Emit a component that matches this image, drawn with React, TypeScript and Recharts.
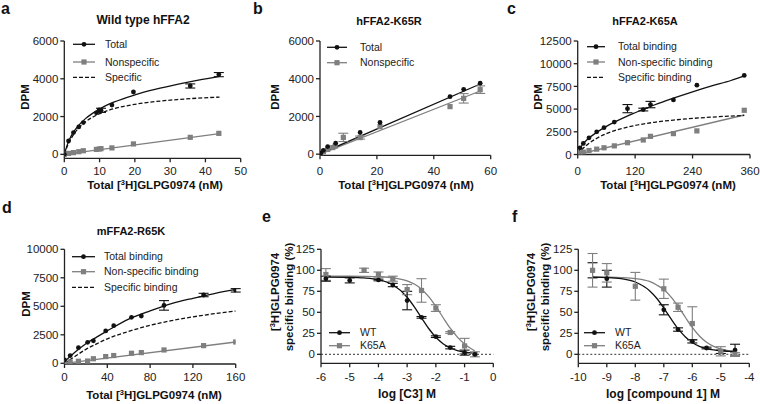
import React from 'react';
import { ComposedChart, Line, Scatter, XAxis, YAxis, ErrorBar, ReferenceLine } from 'recharts';

const BLACK = '#111111';
const GRAY = '#7f7f7f';
const FONT = '"Liberation Sans", Arial, sans-serif';

// ---------- Panel a : Wild type hFFA2 ----------
const aX = [0, 1.2, 2.6, 4.1, 5.4, 9.1, 9.9, 10.4, 13.5, 19.6, 35.7, 43.8];
const aTotal = [0, 705, 1150, 1450, 1680, 2200, 2350, 2330, 2610, 3300, 3620, 4220];
const aTotalErr = [0, 0, 0, 0, 0, 0, 0, 110, 0, 0, 110, 110];
const aNonspecific = [0, 50, 90, 140, 190, 260, 280, 300, 340, 550, 900, 1110];
const aFitX = [0, 1, 2, 4, 6, 8, 10, 14, 20, 26, 32, 38, 44];
const aTotalFit = [0, 580, 990, 1520, 1890, 2170, 2400, 2760, 3148, 3448, 3700, 3926, 4130];
const aSpecificFit = [0, 492, 861, 1377, 1722, 1967, 2152, 2410, 2648, 2798, 2900, 2976, 3030];
const aNonFitX = [0, 44];
const aNonFit = [0, 1100];

// ---------- Panel b : hFFA2-K65R ----------
const bTotalX = [0.3, 1.2, 2.7, 5.5, 14.1, 21.1, 45.7, 50.5, 56.3];
const bTotal = [60, 200, 400, 580, 1150, 1680, 3050, 3440, 3760];
const bNonX = [0.3, 1.2, 2.7, 4.5, 5.3, 8.2, 14.1, 21.1, 45.7, 50.5, 56.3];
const bNonspecific = [40, 130, 250, 350, 420, 890, 880, 1460, 2520, 2960, 3420];
const bNonErr = [0, 0, 0, 0, 0, 220, 80, 0, 0, 250, 200];
const bFitX = [0, 56.3];
const bTotalFit = [20, 3720];
const bNonFit = [0, 3350];

// ---------- Panel c : hFFA2-K65A ----------
const cX = [4.8, 11.7, 23.6, 39.7, 55, 76.5, 104, 137, 152, 200, 249, 348];
const cTotal = [730, 1215, 1840, 2500, 2950, 3570, 5050, 4950, 5500, 6010, 7640, 8710];
const cTotalErr = [0, 0, 0, 0, 0, 0, 450, 150, 350, 0, 0, 0];
const cNonspecific = [150, 260, 440, 590, 740, 950, 1300, 1600, 2000, 2300, 2600, 4870];
const cFitX = [0, 5, 10, 20, 40, 60, 80, 100, 120, 160, 200, 240, 280, 320, 348];
const cTotalFit = [0, 600, 1100, 1650, 2450, 3100, 3650, 4150, 4600, 5450, 6200, 6900, 7550, 8150, 8650];
const cSpecificFit = [0, 320, 604, 1083, 1795, 2300, 2676, 2967, 3199, 3545, 3791, 3975, 4118, 4233, 4300];
const cNonFitX = [0, 348];
const cNonFit = [0, 4350];

// ---------- Panel d : mFFA2-R65K ----------
const dX = [0, 5.3, 13, 21.6, 27, 38.5, 46, 62.6, 71.8, 93, 130, 160];
const dTotal = [290, 680, 1370, 1840, 1970, 2840, 3300, 4030, 4150, 5080, 5990, 6400];
const dTotalErr = [0, 0, 0, 0, 0, 0, 0, 0, 0, 420, 150, 150];
const dNonspecific = [60, 120, 180, 200, 400, 590, 680, 880, 940, 1170, 1550, 1870];
const dFitX = [0, 10, 20, 30, 40, 60, 80, 100, 120, 140, 160];
const dTotalFit = [150, 1000, 1720, 2300, 2850, 3880, 4600, 5230, 5700, 6120, 6480];
const dSpecificFit = [0, 620, 1227, 1702, 2150, 2800, 3330, 3740, 4070, 4350, 4590];
const dNonFitX = [0, 160];
const dNonFit = [0, 1870];

// ---------- Panel e : log [C3] ----------
const eWTX = [-5.83, -5, -4, -3.5, -3, -2.5, -2, -1.5, -1, -0.64];
const eWT = [90, 88, 88.5, 82.5, 64, 44, 21, 8, 2, 0];
const eWTErr = [3, 3, 1, 2, 11, 1, 1, 1.5, 3, 0];
const eKX = [-5.83, -4.5, -4, -3.5, -3, -2.5, -2, -1.5, -1, -0.64];
const eK = [95, 100, 95, 90, 77, 76, 55, 26, 10, 0];
const eKErr = [7, 2.5, 3, 3, 6, 14, 4, 1, 9, 3];
const eFitX = [-5.83, -5, -4.5, -4, -3.5, -3, -2.75, -2.5, -2.25, -2, -1.75, -1.5, -1.25, -1, -0.64];
const eWTFit = [91.95, 91.67, 90.98, 88.85, 82.72, 67.91, 56.41, 43.36, 30.72, 20.23, 12.59, 7.53, 4.39, 2.52, 1.12];
const eKFit = [93, 92.94, 92.81, 92.42, 91.18, 87.48, 83.62, 77.53, 68.64, 57.02, 43.83, 31.05, 20.45, 12.2, 4];

// ---------- Panel f : log [compound 1] ----------
const fWTX = [-9.5, -9, -7, -6.5, -6, -5.5, -5, -4.5];
const fWT = [100, 90, 53, 29.5, 15.5, 7.5, 3, 5];
const fWTErr = [9, 10, 6, 2, 2, 1, 2, 7];
const fKX = [-9.5, -9, -8, -7, -6.5, -6, -5, -4.5];
const fK = [100, 97, 81, 78, 56, 36.6, 3.6, 0];
const fKErr = [20, 11, 16.5, 11.5, 5, 20, 5.5, 2];
const fFitX = [-9.5, -9, -8.5, -8, -7.5, -7.25, -7, -6.75, -6.5, -6.25, -6, -5.75, -5.5, -5.25, -5, -4.5];
const fWTFit = [91.8, 91.4, 90.05, 86.1, 75.7, 66.7, 55.1, 42.4, 30.5, 20.9, 14.0, 9.55, 6.8, 5.2, 4.24, 3.4];
const fKFit = [92.0, 91.8, 91.4, 90.2, 86.7, 82.5, 77.0, 68.4, 57.2, 44.4, 32.0, 21.8, 14.3, 9.4, 6.3, 3.4];

type Pt = { x: number; y: number; e: number };
const pts = (xs: number[], ys: number[], es?: number[]): Pt[] =>
  xs.map((x, i) => ({ x, y: ys[i], e: es ? es[i] : 0 }));

const Circle = (p: any) =>
  p.cx == null ? null : <circle cx={p.cx} cy={p.cy} r={2.4} fill={BLACK} />;
const Square = (p: any) =>
  p.cx == null ? null : <rect x={p.cx - 2.6} y={p.cy - 2.6} width={5.2} height={5.2} fill={GRAY} />;

const XTick = (p: any) => (
  <text x={p.x} y={p.y} dy="0.72em" textAnchor="middle" fontSize={11.5} fontFamily={FONT} fill="#222">
    {p.payload.value}
  </text>
);
const YTick = (p: any) => (
  <text x={p.x} y={p.y} dy="0.36em" textAnchor="end" fontSize={11.5} fontFamily={FONT} fill="#222">
    {p.payload.value}
  </text>
);

type Series = { data: Pt[]; color: string; kind: 'circle' | 'square' };
type Fit = { data: Pt[]; color: string; dash?: string };

type PanelProps = {
  box: { x: number; y: number; w: number; h: number };
  plot: { left: number; top: number; right: number; bottom: number };
  xDomain: [number, number];
  xTicks: number[];
  yDomain: [number, number];
  yTicks: number[];
  series: Series[];
  fits: Fit[];
  zeroLine?: boolean;
  xTickMargin: number;
};

function Panel({ box, plot, xDomain, xTicks, yDomain, yTicks, series, fits, zeroLine, xTickMargin }: PanelProps) {
  const margin = { top: plot.top - box.y, right: box.x + box.w - plot.right, left: 0, bottom: 0 };
  return (
    <div style={{ position: 'absolute', left: box.x, top: box.y }}>
      <ComposedChart width={box.w} height={box.h} margin={margin}>
        <XAxis
          type="number"
          dataKey="x"
          domain={xDomain}
          ticks={xTicks}
          allowDataOverflow
          height={box.y + box.h - plot.bottom}
          tick={XTick}
          tickSize={4}
          tickMargin={xTickMargin}
          stroke="#222"
          strokeWidth={1.3}
          interval={0}
        />
        <YAxis
          type="number"
          dataKey="y"
          domain={yDomain}
          ticks={yTicks}
          allowDataOverflow
          width={plot.left - box.x}
          tick={YTick}
          tickSize={4}
          tickMargin={2}
          stroke="#222"
          strokeWidth={1.3}
          interval={0}
        />
        {zeroLine && <ReferenceLine y={0} stroke="#333" strokeDasharray="2 2" strokeWidth={1} />}
        {fits.map((f, i) => (
          <Line
            key={'f' + i}
            data={f.data}
            dataKey="y"
            type="monotone"
            stroke={f.color}
            strokeWidth={1.3}
            strokeDasharray={f.dash}
            dot={false}
            activeDot={false}
            isAnimationActive={false}
          />
        ))}
        {series.map((s, i) => (
          <Scatter
            key={'s' + i}
            data={s.data}
            dataKey="y"
            shape={s.kind === 'circle' ? Circle : Square}
            isAnimationActive={false}
          >
            <ErrorBar dataKey="e" direction="y" width={5} stroke={s.color} strokeWidth={1.1} />
          </Scatter>
        ))}
      </ComposedChart>
    </div>
  );
}

type LegendRow = { label: string; color: string; marker?: 'circle' | 'square'; dash?: string };
function LegendBox({ x1, x2, tx, ys, rows }: { x1: number; x2: number; tx: number; ys: number[]; rows: LegendRow[] }) {
  const cx = (x1 + x2) / 2;
  return (
    <g>
      {rows.map((r, i) => (
        <g key={i}>
          <line x1={x1} x2={x2} y1={ys[i]} y2={ys[i]} stroke={r.color} strokeWidth={1.3} strokeDasharray={r.dash} />
          {r.marker === 'circle' && <circle cx={cx} cy={ys[i]} r={2.4} fill={r.color} />}
          {r.marker === 'square' && <rect x={cx - 2.6} y={ys[i] - 2.6} width={5.2} height={5.2} fill={r.color} />}
          <text x={tx} y={ys[i]} dy="0.36em" fontSize={10.5} fontFamily={FONT} fill="#222">
            {r.label}
          </text>
        </g>
      ))}
    </g>
  );
}

const XTitle = ({ cx, y }: { cx: number; y: number }) => (
  <text x={cx} y={y} textAnchor="middle" fontSize={11.5} fontWeight="bold" fontFamily={FONT} fill="#111">
    Total [<tspan dy={-4} fontSize={7.5}>3</tspan>
    <tspan dy={4}>H]GLPG0974 (nM)</tspan>
  </text>
);

const PanelTitle = ({ cx, y, t, fs }: { cx: number; y: number; t: string; fs: number }) => (
  <text x={cx} y={y} textAnchor="middle" fontSize={fs} fontWeight="bold" fontFamily={FONT} fill="#111">
    {t}
  </text>
);

const Letter = ({ x, y, t }: { x: number; y: number; t: string }) => (
  <text x={x} y={y} fontSize={16} fontWeight="bold" fontFamily={FONT} fill="#111">
    {t}
  </text>
);

const RotTitle = ({ x, y, children }: { x: number; y: number; children: React.ReactNode }) => (
  <text
    x={0}
    y={0}
    transform={`translate(${x},${y}) rotate(-90)`}
    textAnchor="middle"
    fontSize={11.5}
    fontWeight="bold"
    fontFamily={FONT}
    fill="#111"
  >
    {children}
  </text>
);

export default function App() {
  return (
    <div style={{ position: 'absolute', left: 0, top: 0, width: 760, height: 404, background: '#fff', overflow: 'hidden' }}>
      <Panel
        box={{ x: 0, y: 0, w: 250, h: 200 }}
        plot={{ left: 64.3, top: 41, right: 240.7, bottom: 158.3 }}
        xDomain={[0, 50]}
        xTicks={[0, 10, 20, 30, 40, 50]}
        yDomain={[-210, 6000]}
        yTicks={[0, 2000, 4000, 6000]}
        xTickMargin={4.5}
        fits={[
          { data: pts(aNonFitX, aNonFit), color: GRAY },
          { data: pts(aFitX, aSpecificFit), color: BLACK, dash: '4 2' },
          { data: pts(aFitX, aTotalFit), color: BLACK },
        ]}
        series={[
          { data: pts(aX, aNonspecific), color: GRAY, kind: 'square' },
          { data: pts(aX, aTotal, aTotalErr), color: BLACK, kind: 'circle' },
        ]}
      />
      <Panel
        box={{ x: 250, y: 0, w: 255, h: 200 }}
        plot={{ left: 320, top: 41, right: 490.7, bottom: 155.3 }}
        xDomain={[0, 60]}
        xTicks={[0, 20, 40, 60]}
        yDomain={[-60, 6000]}
        yTicks={[0, 2000, 4000, 6000]}
        xTickMargin={7.5}
        fits={[
          { data: pts(bFitX, bNonFit), color: GRAY },
          { data: pts(bFitX, bTotalFit), color: BLACK },
        ]}
        series={[
          { data: pts(bNonX, bNonspecific, bNonErr), color: GRAY, kind: 'square' },
          { data: pts(bTotalX, bTotal), color: BLACK, kind: 'circle' },
        ]}
      />
      <Panel
        box={{ x: 505, y: 0, w: 255, h: 200 }}
        plot={{ left: 577.7, top: 41, right: 750, bottom: 154.5 }}
        xDomain={[0, 360]}
        xTicks={[0, 120, 240, 360]}
        yDomain={[0, 12500]}
        yTicks={[0, 2500, 5000, 7500, 10000, 12500]}
        xTickMargin={8}
        fits={[
          { data: pts(cNonFitX, cNonFit), color: GRAY },
          { data: pts(cFitX, cSpecificFit), color: BLACK, dash: '4 2' },
          { data: pts(cFitX, cTotalFit), color: BLACK },
        ]}
        series={[
          { data: pts(cX, cNonspecific), color: GRAY, kind: 'square' },
          { data: pts(cX, cTotal, cTotalErr), color: BLACK, kind: 'circle' },
        ]}
      />
      <Panel
        box={{ x: 0, y: 200, w: 250, h: 204 }}
        plot={{ left: 64.5, top: 249.3, right: 235.7, bottom: 364 }}
        xDomain={[0, 160]}
        xTicks={[0, 40, 80, 120, 160]}
        yDomain={[-61, 10000]}
        yTicks={[0, 2500, 5000, 7500, 10000]}
        xTickMargin={5}
        fits={[
          { data: pts(dNonFitX, dNonFit), color: GRAY },
          { data: pts(dFitX, dSpecificFit), color: BLACK, dash: '4 2' },
          { data: pts(dFitX, dTotalFit), color: BLACK },
        ]}
        series={[
          { data: pts(dX, dNonspecific), color: GRAY, kind: 'square' },
          { data: pts(dX, dTotal, dTotalErr), color: BLACK, kind: 'circle' },
        ]}
      />
      <Panel
        box={{ x: 250, y: 200, w: 255, h: 204 }}
        plot={{ left: 321, top: 249.3, right: 493.3, bottom: 363.3 }}
        xDomain={[-6, 0]}
        xTicks={[-6, -5, -4, -3, -2, -1, 0]}
        yDomain={[-10.7, 125]}
        yTicks={[0, 25, 50, 75, 100, 125]}
        xTickMargin={5.5}
        zeroLine
        fits={[
          { data: pts(eFitX, eKFit), color: GRAY },
          { data: pts(eFitX, eWTFit), color: BLACK },
        ]}
        series={[
          { data: pts(eKX, eK, eKErr), color: GRAY, kind: 'square' },
          { data: pts(eWTX, eWT, eWTErr), color: BLACK, kind: 'circle' },
        ]}
      />
      <Panel
        box={{ x: 505, y: 200, w: 255, h: 204 }}
        plot={{ left: 578.3, top: 249.3, right: 749.3, bottom: 363.3 }}
        xDomain={[-10, -4]}
        xTicks={[-10, -9, -8, -7, -6, -5, -4]}
        yDomain={[-10.7, 125]}
        yTicks={[0, 25, 50, 75, 100, 125]}
        xTickMargin={5.5}
        zeroLine
        fits={[
          { data: pts(fFitX, fKFit), color: GRAY },
          { data: pts(fFitX, fWTFit), color: BLACK },
        ]}
        series={[
          { data: pts(fWTX, fWT, fWTErr), color: BLACK, kind: 'circle' },
          { data: pts(fKX, fK, fKErr), color: GRAY, kind: 'square' },
        ]}
      />

      <svg width={760} height={404} style={{ position: 'absolute', left: 0, top: 0, pointerEvents: 'none' }}>
        <Letter x={1} y={14} t="a" />
        <Letter x={253} y={14} t="b" />
        <Letter x={507} y={14} t="c" />
        <Letter x={2} y={213} t="d" />
        <Letter x={262} y={222} t="e" />
        <Letter x={512} y={222} t="f" />

        <PanelTitle cx={143} y={24} t="Wild type hFFA2" fs={12} />
        <PanelTitle cx={389} y={25} t="hFFA2-K65R" fs={11} />
        <PanelTitle cx={645} y={25} t="hFFA2-K65A" fs={11} />
        <PanelTitle cx={131} y={235} t="mFFA2-R65K" fs={11} />

        <XTitle cx={155} y={189} />
        <XTitle cx={406} y={189} />
        <XTitle cx={668} y={189} />
        <XTitle cx={154} y={399} />
        <text x={407} y={398} textAnchor="middle" fontSize={12} fontWeight="bold" fontFamily={FONT} fill="#111">
          log [C3] M
        </text>
        <text x={663} y={398} textAnchor="middle" fontSize={12} fontWeight="bold" fontFamily={FONT} fill="#111">
          log [compound 1] M
        </text>

        <RotTitle x={29} y={97}>DPM</RotTitle>
        <RotTitle x={279} y={97}>DPM</RotTitle>
        <RotTitle x={542} y={97}>DPM</RotTitle>
        <RotTitle x={30} y={304}>DPM</RotTitle>

        <RotTitle x={279} y={292}>
          [<tspan dy={-4} fontSize={7.5}>3</tspan>
          <tspan dy={4}>H]GLPG0974</tspan>
        </RotTitle>
        <RotTitle x={293} y={297}>specific binding (%)</RotTitle>
        <RotTitle x={535} y={292}>
          [<tspan dy={-4} fontSize={7.5}>3</tspan>
          <tspan dy={4}>H]GLPG0974</tspan>
        </RotTitle>
        <RotTitle x={549} y={297}>specific binding (%)</RotTitle>

        <LegendBox
          x1={73}
          x2={95}
          tx={105}
          ys={[44.3, 62, 77.3]}
          rows={[
            { label: 'Total', color: BLACK, marker: 'circle' },
            { label: 'Nonspecific', color: GRAY, marker: 'square' },
            { label: 'Specific', color: BLACK, dash: '4 2' },
          ]}
        />
        <LegendBox
          x1={327}
          x2={347}
          tx={360}
          ys={[47.3, 62.7]}
          rows={[
            { label: 'Total', color: BLACK, marker: 'circle' },
            { label: 'Nonspecific', color: GRAY, marker: 'square' },
          ]}
        />
        <LegendBox
          x1={587}
          x2={605}
          tx={618}
          ys={[46.7, 62, 77.3]}
          rows={[
            { label: 'Total binding', color: BLACK, marker: 'circle' },
            { label: 'Non-specific binding', color: GRAY, marker: 'square' },
            { label: 'Specific binding', color: BLACK, dash: '4 2' },
          ]}
        />
        <LegendBox
          x1={72}
          x2={95}
          tx={104}
          ys={[256.7, 271.7, 287.3]}
          rows={[
            { label: 'Total binding', color: BLACK, marker: 'circle' },
            { label: 'Non-specific binding', color: GRAY, marker: 'square' },
            { label: 'Specific binding', color: BLACK, dash: '4 2' },
          ]}
        />
        <LegendBox
          x1={329}
          x2={350}
          tx={360}
          ys={[332.7, 345.7]}
          rows={[
            { label: 'WT', color: BLACK, marker: 'circle' },
            { label: 'K65A', color: GRAY, marker: 'square' },
          ]}
        />
        <LegendBox
          x1={584}
          x2={605}
          tx={615}
          ys={[332.7, 345.7]}
          rows={[
            { label: 'WT', color: BLACK, marker: 'circle' },
            { label: 'K65A', color: GRAY, marker: 'square' },
          ]}
        />
      </svg>
    </div>
  );
}
